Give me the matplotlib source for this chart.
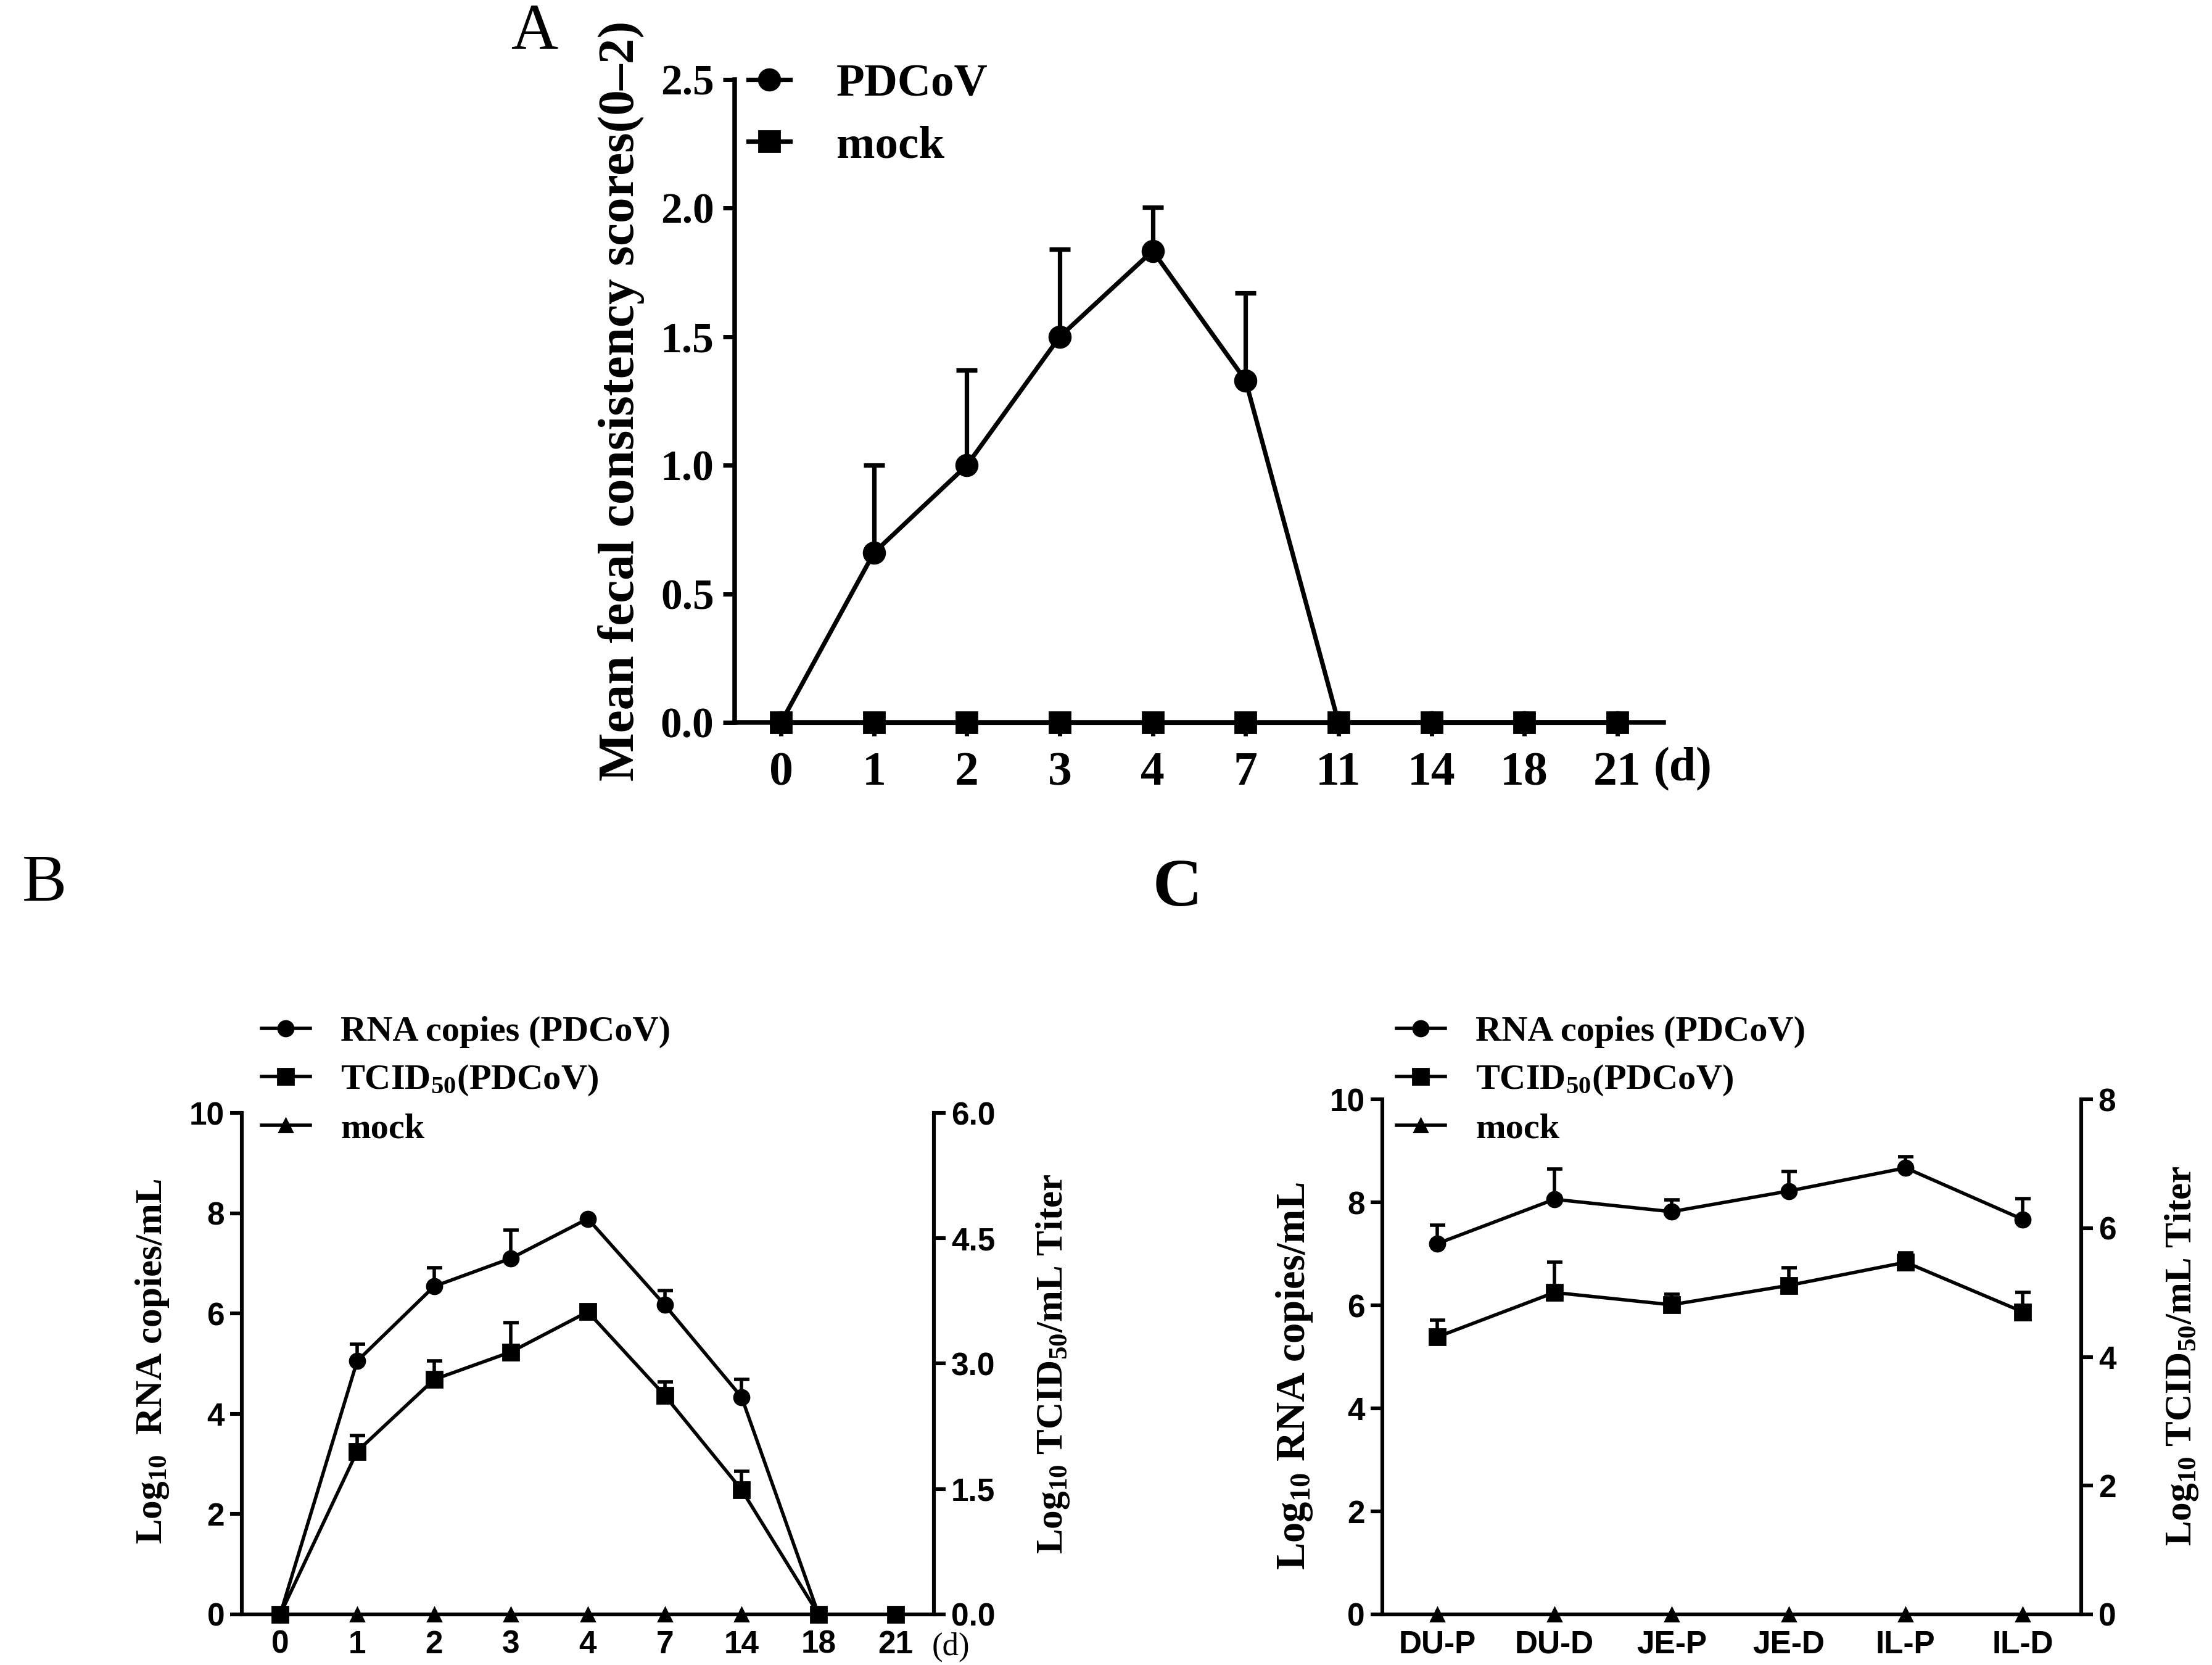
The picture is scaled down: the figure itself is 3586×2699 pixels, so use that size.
import numpy as np
import matplotlib
matplotlib.use("Agg")
import matplotlib.pyplot as plt

# ---- donnees ----
# panneau A : score fecal
jours_A = ['0', '1', '2', '3', '4', '7', '11', '14', '18', '21']
pdcov_A = [0, 0.66, 1.0, 1.5, 1.834, 1.33, 0, 0, 0, 0]
pdcov_A_sd = [0, 0.34, 0.37, 0.34, 0.17, 0.34, 0, 0, 0, 0]
mock_A = [0, 0, 0, 0, 0, 0, 0, 0, 0, 0]

# panneau B : excretion fecale (ARN axe gauche, TCID50 axe droit)
jours_B = ['0', '1', '2', '3', '4', '7', '14', '18', '21']
rna_B = [0, 5.05, 6.54, 7.10, 7.89, 6.17, 4.33, 0, np.nan]
rna_B_sd = [0, 0.34, 0.37, 0.56, 0, 0.29, 0.35, 0, 0]
tcid_B = [0, 1.95, 2.81, 3.14, 3.62, 2.62, 1.49, 0, 0]
tcid_B_sd = [0, 0.19, 0.22, 0.35, 0, 0.16, 0.22, 0, 0]
mock_B = [0, 0, 0, 0, 0, 0, 0, 0, np.nan]

# panneau C : tissus intestinaux
sites_C = ['DU-P', 'DU-D', 'JE-P', 'JE-D', 'IL-P', 'IL-D']
rna_C = [7.20, 8.06, 7.82, 8.22, 8.67, 7.67]
rna_C_sd = [0.36, 0.59, 0.23, 0.38, 0.22, 0.40]
tcid_C = [4.31, 5.00, 4.81, 5.11, 5.47, 4.70]
tcid_C_sd = [0.26, 0.47, 0.16, 0.28, 0.15, 0.30]
mock_C = [0, 0, 0, 0, 0, 0]

SERIF = 'Liberation Serif'
SANS = 'Liberation Sans'
plt.rcParams['mathtext.fontset'] = 'custom'
plt.rcParams['mathtext.rm'] = 'Liberation Serif:bold'
plt.rcParams['mathtext.it'] = 'Liberation Serif:bold'
plt.rcParams['mathtext.bf'] = 'Liberation Serif:bold'
plt.rcParams['mathtext.default'] = 'rm'


def barres_haut(ax, x, y, sd, lw, cap):
    # uniquement la barre superieure, comme GraphPad
    x = np.asarray(x, float)
    y = np.asarray(y, float)
    sd = np.asarray(sd, float)
    m = sd > 0
    ax.errorbar(x[m], y[m], yerr=[np.zeros(m.sum()), sd[m]], fmt='none',
                ecolor='black', elinewidth=lw, capsize=cap, capthick=lw,
                clip_on=False, zorder=2)


fig = plt.figure(figsize=(3586 / 200, 2699 / 200), dpi=200)

# ================= A =================
axA = fig.add_axes([0.3321, 0.5661, 0.42, 0.3861])
xa = np.arange(len(jours_A))
barres_haut(axA, xa, pdcov_A, pdcov_A_sd, 2.6, 6)
axA.plot(xa, pdcov_A, '-o', color='black', lw=2.6, ms=12.5, clip_on=False,
         zorder=3, label='PDCoV')
axA.plot(xa, mock_A, '-s', color='black', lw=2.6, ms=12.5, clip_on=False,
         zorder=4, label='mock')
axA.set_xlim(-0.5, 9.5)
axA.set_ylim(0, 2.5)
axA.set_yticks([0, 0.5, 1.0, 1.5, 2.0, 2.5])
axA.set_yticklabels(['0.0', '0.5', '1.0', '1.5', '2.0', '2.5'])
axA.set_xticks(xa)
axA.set_xticklabels(jours_A)
for s in ['top', 'right']:
    axA.spines[s].set_visible(False)
for s in ['left', 'bottom']:
    axA.spines[s].set_linewidth(2.7)
axA.tick_params(axis='y', direction='out', length=7, width=2.5, pad=5,
                labelsize=25)
axA.tick_params(axis='x', direction='out', length=8, width=2.5, pad=9,
                labelsize=28)
for t in axA.get_xticklabels() + axA.get_yticklabels():
    t.set_family(SERIF)
    t.set_weight('bold')
axA.set_ylabel('Mean fecal consistency scores(0\u20132)', family=SERIF,
               weight='bold', fontsize=30)
axA.yaxis.set_label_coords(-0.097, 0.5)
fig.text(0.7607, 1 - 1247 / 2699, '(d)', family=SERIF, weight='bold',
         fontsize=28, ha='center', va='center')
axA.legend(loc='upper left', bbox_to_anchor=(0.3383, 0.962),
           bbox_transform=fig.transFigure, frameon=False, borderpad=0,
           borderaxespad=0, handlelength=0.9, handletextpad=1.0,
           labelspacing=0.42, prop={'family': SERIF, 'weight': 'bold',
                                    'size': 27})

# ================= B =================
axB = fig.add_axes([0.1093, 0.0304, 0.3129, 0.3012])
axB2 = axB.twinx()
xb = np.arange(len(jours_B))
barres_haut(axB, xb, rna_B, rna_B_sd, 2.0, 4.5)
barres_haut(axB2, xb, tcid_B, tcid_B_sd, 2.0, 4.5)
l1, = axB.plot(xb, rna_B, '-o', color='black', lw=2.0, ms=9, clip_on=False,
               zorder=3, label='RNA copies (PDCoV)')
l2, = axB2.plot(xb, tcid_B, '-s', color='black', lw=2.0, ms=9.5,
                clip_on=False, zorder=3, label='TCID$_{50}$(PDCoV)')
l3, = axB.plot(xb, mock_B, '-^', color='black', lw=2.0, ms=8,
               clip_on=False, zorder=4, label='mock')
axB.set_xlim(-0.5, 8.5)
axB.set_ylim(0, 10)
axB2.set_ylim(0, 6)
axB.set_yticks([0, 2, 4, 6, 8, 10])
axB2.set_yticks([0, 1.5, 3.0, 4.5, 6.0])
axB2.set_yticklabels(['0.0', '1.5', '3.0', '4.5', '6.0'])
axB.set_xticks(xb)
axB.set_xticklabels(jours_B)

# ================= C =================
axC = fig.add_axes([0.6249, 0.0304, 0.316, 0.3093])
axC2 = axC.twinx()
xc = np.arange(len(sites_C))
barres_haut(axC, xc, rna_C, rna_C_sd, 2.0, 4.5)
barres_haut(axC2, xc, tcid_C, tcid_C_sd, 2.0, 4.5)
m1, = axC.plot(xc, rna_C, '-o', color='black', lw=2.0, ms=9, clip_on=False,
               zorder=3, label='RNA copies (PDCoV)')
m2, = axC2.plot(xc, tcid_C, '-s', color='black', lw=2.0, ms=9.5,
                clip_on=False, zorder=3, label='TCID$_{50}$(PDCoV)')
m3, = axC.plot(xc, mock_C, '^', color='black', ms=8, clip_on=False,
               zorder=4, label='mock')
m3l, = axC.plot([], [], '-^', color='black', lw=2.0, ms=8)
axC.set_xlim(-0.47, 5.5)
axC.set_ylim(0, 10)
axC2.set_ylim(0, 8)
axC.set_yticks([0, 2, 4, 6, 8, 10])
axC2.set_yticks([0, 2, 4, 6, 8])
axC.set_xticks(xc)
axC.set_xticklabels(sites_C)

for ax, ax2 in [(axB, axB2), (axC, axC2)]:
    ax.spines['top'].set_visible(False)
    ax2.spines['top'].set_visible(False)
    for s in ['left', 'bottom']:
        ax.spines[s].set_linewidth(2.2)
    ax2.spines['right'].set_linewidth(2.2)
    ax2.spines['left'].set_visible(False)
    ax2.spines['bottom'].set_visible(False)
    ax.tick_params(axis='y', direction='out', length=7, width=2.2, pad=3,
                   labelsize=18.5)
    ax2.tick_params(axis='y', direction='out', length=7, width=2.2, pad=3,
                    labelsize=18.5)
    ax.tick_params(axis='x', direction='out', length=4, width=2.2, pad=5,
                   labelsize=18.5)
    for t in ax.get_xticklabels() + ax.get_yticklabels() + ax2.get_yticklabels():
        t.set_family(SANS)
        t.set_weight('bold')

axB.set_ylabel('Log$_{10}$  RNA copies/mL', family=SERIF, weight='bold',
               fontsize=22)
axB.yaxis.set_label_coords(-0.102, 0.504)
axB2.set_ylabel('Log$_{10}$ TCID$_{50}$/mL Titer', family=SERIF,
                weight='bold', fontsize=22, rotation=90)
axB2.yaxis.set_label_coords(1.145, 0.50)
fig.text(1541 / 3586, 1 - 2670 / 2699, '(d)', family=SERIF, fontsize=19,
         ha='center', va='center')

axC.set_ylabel('Log$_{10}$ RNA copies/mL', family=SERIF, weight='bold',
               fontsize=24)
axC.yaxis.set_label_coords(-0.097, 0.463)
axC2.set_ylabel('Log$_{10}$ TCID$_{50}$/mL Titer', family=SERIF,
                weight='bold', fontsize=22, rotation=90)
axC2.yaxis.set_label_coords(1.117, 0.502)

leg_prop = {'family': SERIF, 'weight': 'bold', 'size': 21}
axB.legend([l1, l2, l3], [l1.get_label(), l2.get_label(), l3.get_label()],
           loc='upper left', bbox_to_anchor=(0.1182, 0.3900),
           bbox_transform=fig.transFigure, frameon=False, borderpad=0,
           borderaxespad=0, handlelength=1.35, handletextpad=0.85,
           labelspacing=0.42, prop=leg_prop)
axC.legend([m1, m2, m3l], [m1.get_label(), m2.get_label(), 'mock'],
           loc='upper left', bbox_to_anchor=(0.6313, 0.3900),
           bbox_transform=fig.transFigure, frameon=False, borderpad=0,
           borderaxespad=0, handlelength=1.35, handletextpad=0.85,
           labelspacing=0.42, prop=leg_prop)

# lettres des panneaux
fig.text(867 / 3586, 1 - 54 / 2699, 'A', family=SERIF, fontsize=38,
         ha='center', va='center')
fig.text(72 / 3586, 1 - 1434 / 2699, 'B', family=SERIF, fontsize=39,
         ha='center', va='center')
fig.text(1909 / 3586, 1 - 1441 / 2699, 'C', family=SERIF, weight='bold',
         fontsize=40, ha='center', va='center')

plt.savefig('out.png', dpi=200)
